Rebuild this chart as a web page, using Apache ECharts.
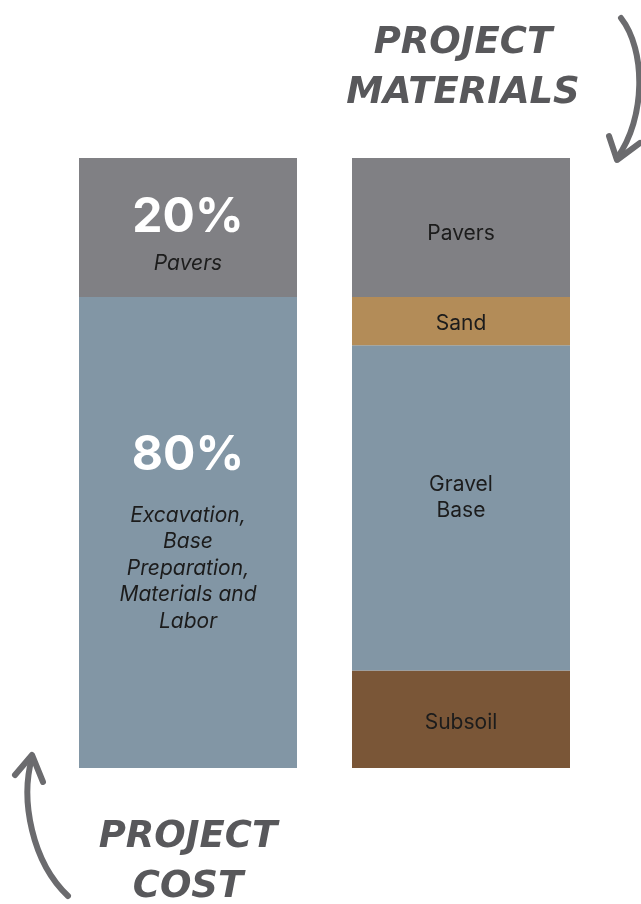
<!DOCTYPE html>
<html>
<head>
<meta charset="utf-8">
<script src="https://cdn.jsdelivr.net/npm/echarts@6/dist/echarts.min.js"></script>
<style>
  html, body { margin: 0; padding: 0; background: #fff; }
</style>
</head>
<body>
<div id="main" style="width: 641px; height: 904px;"></div>
<script>
// two columns
const columns = ['Project Cost', 'Project Materials']
// bar heights as share of the column
const costPavers = 22.8
const costOther = 77.2
const matPavers = 22.8
const matSand = 7.9
const matGravel = 53.3
const matSubsoil = 16.0
// text shown in the bars
const costPaversPct = '20%'
const costOtherPct = '80%'
const costOtherText = ['Excavation,', 'Base', 'Preparation,', 'Materials and', 'Labor']

const grey = '#808084'
const slate = '#8296a5'
const sand = '#b38c58'
const soil = '#7a5637'
const ink = '#1c1c1c'
const hand = '#58585b'

const myChart = echarts.init(document.getElementById('main'))

const matLabel = (offY) => ({
  show: true,
  position: 'inside',
  offset: [0, offY || 0],
  color: ink,
  fontFamily: 'Inter',
  fontSize: 21,
  lineHeight: 26,
  formatter: p => p.seriesName.replace(' ', '\n')
})

const handText = {
  fontFamily: 'DejaVu Sans',
  fontStyle: 'italic',
  fontWeight: 'bold',
  fontSize: 37,
  lineHeight: 50,
  color: hand
}

myChart.setOption({
  animation: false,
  title: [
    { text: 'PROJECT\nMATERIALS', left: 458, top: 13, textAlign: 'center', textStyle: handText },
    { text: 'PROJECT\nCOST', left: 183, top: 807, textAlign: 'center', textStyle: handText }
  ],
  grid: { left: 51.5, right: 43.5, top: 158, bottom: 136 },
  xAxis: {
    type: 'category',
    data: columns,
    show: false
  },
  yAxis: {
    type: 'value',
    min: 0,
    max: 100,
    show: false
  },
  series: [
    {
      name: 'cost other',
      type: 'bar',
      stack: 'all',
      barWidth: 218,
      data: [costOther, '-'],
      itemStyle: { color: slate },
      label: {
        show: true,
        position: 'inside',
        offset: [0, -0.5],
        formatter: '{big|' + costOtherPct + '}\n{gap|}\n' + costOtherText.map(t => '{it|' + t + '}').join('\n'),
        rich: {
          big: { fontFamily: 'Inter', fontWeight: 'bold', fontSize: 48, color: '#fff', lineHeight: 52 },
          gap: { height: 21, lineHeight: 21 },
          it: { fontFamily: 'Inter', fontStyle: 'italic', fontSize: 21, color: ink, lineHeight: 26.5 }
        }
      }
    },
    {
      name: 'cost pavers',
      type: 'bar',
      stack: 'all',
      barWidth: 218,
      data: [costPavers, '-'],
      itemStyle: { color: grey },
      label: {
        show: true,
        position: 'inside',
        offset: [0, 6],
        formatter: '{big|' + costPaversPct + '}\n{gap|}\n{it|Pavers}',
        rich: {
          big: { fontFamily: 'Inter', fontWeight: 'bold', fontSize: 48, color: '#fff', lineHeight: 54 },
          gap: { height: 6, lineHeight: 6 },
          it: { fontFamily: 'Inter', fontStyle: 'italic', fontSize: 21, color: ink, lineHeight: 26 }
        }
      }
    },
    {
      name: 'Subsoil',
      type: 'bar',
      stack: 'all',
      barWidth: 218,
      data: ['-', matSubsoil],
      itemStyle: { color: soil },
      label: matLabel(3)
    },
    {
      name: 'Gravel Base',
      type: 'bar',
      stack: 'all',
      barWidth: 218,
      data: ['-', matGravel],
      itemStyle: { color: slate },
      label: matLabel(-10)
    },
    {
      name: 'Sand',
      type: 'bar',
      stack: 'all',
      barWidth: 218,
      data: ['-', matSand],
      itemStyle: { color: sand },
      label: matLabel(3)
    },
    {
      name: 'Pavers',
      type: 'bar',
      stack: 'all',
      barWidth: 218,
      data: ['-', matPavers],
      itemStyle: { color: grey },
      label: matLabel(6)
    }
  ],
  graphic: [
    // hand drawn arrows
    {
      type: 'bezierCurve',
      shape: { x1: 621, y1: 18, cpx1: 646, cpy1: 50, cpx2: 646, cpy2: 118, x2: 617, y2: 158 },
      style: { stroke: '#6b6b6e', lineWidth: 6, fill: null, lineCap: 'round' }
    },
    {
      type: 'polyline',
      shape: { points: [[609, 136], [617, 160], [640, 143]] },
      style: { stroke: '#6b6b6e', lineWidth: 6, fill: null, lineCap: 'round', lineJoin: 'round' }
    },
    {
      type: 'bezierCurve',
      shape: { x1: 68, y1: 896, cpx1: 32, cpy1: 862, cpx2: 20, cpy2: 800, x2: 32, y2: 758 },
      style: { stroke: '#6b6b6e', lineWidth: 6, fill: null, lineCap: 'round' }
    },
    {
      type: 'polyline',
      shape: { points: [[15, 775], [32, 755], [43, 782]] },
      style: { stroke: '#6b6b6e', lineWidth: 6, fill: null, lineCap: 'round', lineJoin: 'round' }
    }
  ]
})
</script>
</body>
</html>
